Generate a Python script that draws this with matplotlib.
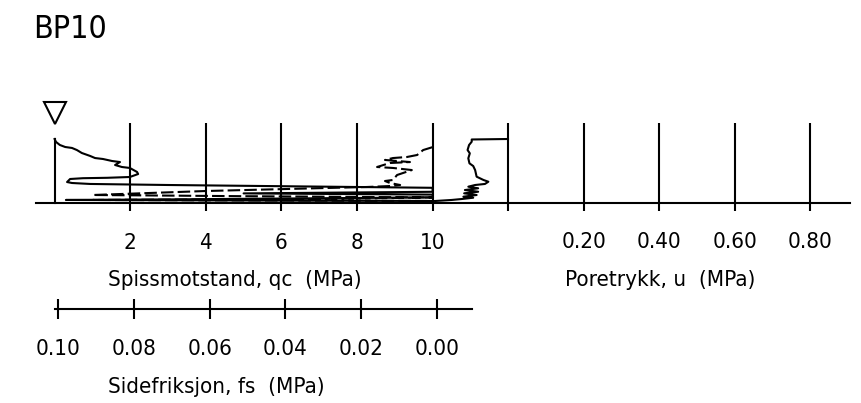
import matplotlib
matplotlib.use("Agg")
import matplotlib.pyplot as plt

plt.rcParams['font.family'] = ['DejaVu Sans']
plt.rcParams['font.stretch'] = 'condensed'

W, H, DPI = 862, 403, 100

title = "BP10"

# Cone resistance qc (MPa) versus depth (m)
qc_depth = [0.0, 0.12, 0.38, 0.75, 1.0, 1.12, 1.38, 1.75, 2.12, 2.38, 2.5, 2.75,
            2.88, 3.25, 3.5, 3.62, 4.12, 4.38, 4.75, 4.85, 4.9, 5.0, 5.38, 5.5,
            5.62, 5.75, 5.95, 6.1, 6.4, 6.6, 6.8, 6.95, 7.3, 7.55, 7.62, 7.75]
qc_values = [0.0, 0.01, 0.04, 0.14, 0.28, 0.46, 0.59, 0.72, 0.94, 1.07, 1.28, 1.52,
             1.73, 1.60, 1.78, 1.99, 2.18, 2.21, 1.99, 1.39, 0.75, 0.41, 0.33, 0.46,
             0.94, 3.0, 7.0, 10.0, 10.0, 10.0, 5.0, 10.0, 10.0, 3.0, 0.3, 10.0]

# Sleeve friction fs (MPa) versus depth (m)
fs_depth = [1.0, 1.38, 2.0, 2.25, 2.38, 2.62, 2.75, 2.88, 3.0, 3.5, 3.62, 3.88,
            4.5, 5.12, 5.25, 5.5, 5.75, 5.88, 6.0, 6.5, 7.0, 7.15, 7.3, 7.5,
            7.62, 7.75]
fs_values = [0.0, 0.0026, 0.0042, 0.0069, 0.0106, 0.0127, 0.0095, 0.0061, 0.0114,
             0.0148, 0.0106, 0.0056, 0.0095, 0.0106, 0.0127, 0.0114, 0.0087, 0.0114,
             0.0175, 0.060, 0.090, 0.050, 0.0, 0.030, 0.090, 0.0]

# Pore pressure u (MPa) versus depth (m)
u_depth = [0.0, 0.06, 0.34, 0.75, 1.38, 1.79, 2.41, 3.04, 3.38, 3.88, 4.71, 5.12,
           5.34, 5.62, 5.75, 5.96, 6.16, 6.38, 6.59, 6.79, 7.0, 7.21, 7.34, 7.5,
           7.62, 7.75]
u_values = [0.0, -0.096, -0.096, -0.103, -0.107, -0.101, -0.105, -0.102, -0.092,
            -0.087, -0.083, -0.065, -0.052, -0.061, -0.087, -0.105, -0.079, -0.114,
            -0.079, -0.116, -0.083, -0.118, -0.092, -0.122, -0.149, -0.193]

qc_ticks = [2, 4, 6, 8, 10]
qc_tick_labels = ["2", "4", "6", "8", "10"]
u_ticks = [0.0, 0.2, 0.4, 0.6, 0.8]
u_tick_labels = ["", "0.20", "0.40", "0.60", "0.80"]
fs_ticks = [0.10, 0.08, 0.06, 0.04, 0.02, 0.00]
fs_tick_labels = ["0.10", "0.08", "0.06", "0.04", "0.02", "0.00"]

groundwater_marker_depth = -3.25
max_depth = 8.0

LW = 1.5
TXT = 16


def fx(px):
    return px / W


def fy(py):
    return 1 - py / H


fig = plt.figure(figsize=(W / DPI, H / DPI), dpi=DPI)
fig.patch.set_facecolor("white")

# Main panel: qc scale along the bottom, depth downwards
ax = fig.add_axes([fx(36), fy(203), (850 - 36) / W, (203 - 123) / H])
ax.set_xlim((36 - 54.6) / 37.8, (850 - 54.6) / 37.8)
ax.set_ylim(max_depth, -2.0)
ax.patch.set_visible(False)
for side in ("top", "right"):
    ax.spines[side].set_visible(False)
ax.spines["bottom"].set_linewidth(LW)
ax.spines["left"].set_linewidth(LW)
ax.spines["left"].set_position(("data", 0))
ax.spines["left"].set_bounds(0, max_depth)
ax.set_yticks([])
ax.set_xticks(qc_ticks)
ax.set_xticklabels(qc_tick_labels)
ax.grid(axis="x", color="black", linewidth=LW)
ax.tick_params(axis="x", direction="out", length=5.8, width=LW, labelsize=TXT, pad=16)

# Pore pressure scale sharing the depth axis
u_ax = ax.twiny()
u_ax.set_xlim((36 - 508) / 378, (850 - 508) / 378)
u_ax.xaxis.tick_bottom()
u_ax.set_xticks(u_ticks)
u_ax.set_xticklabels(u_tick_labels)
u_ax.grid(axis="x", color="black", linewidth=LW)
u_ax.tick_params(axis="x", direction="out", length=5.8, width=LW, labelsize=TXT, pad=15)
for s in u_ax.spines.values():
    s.set_visible(False)

# Sleeve friction drawn on a reversed scale over the qc panel
fs_ax = ax.twiny()
fs_ax.set_xlim((433 - 36) / 3780, (433 - 850) / 3780)
fs_ax.set_xticks([])
for s in fs_ax.spines.values():
    s.set_visible(False)

ax.plot(qc_values, qc_depth, color="black", lw=LW, solid_joinstyle="round")
fs_ax.plot(fs_values, fs_depth, color="black", lw=LW, linestyle=(0, (6, 2)))
u_ax.plot(u_values, u_depth, color="black", lw=LW, solid_joinstyle="round")

# Groundwater level symbol
ax.plot([0], [groundwater_marker_depth], marker="v", markersize=15.5,
        markerfacecolor="white", markeredgecolor="black", markeredgewidth=1.5,
        clip_on=False)

# Separate scale for sleeve friction
fs_scale = fig.add_axes([fx(55), fy(309), (472 - 55) / W, 2 / H])
fs_scale.set_xlim((437 - 55) / 3790, (437 - 472) / 3790)
fs_scale.patch.set_visible(False)
for side in ("top", "left", "right"):
    fs_scale.spines[side].set_visible(False)
fs_scale.spines["bottom"].set_linewidth(LW)
fs_scale.set_yticks([])
fs_scale.set_xticks(fs_ticks)
fs_scale.set_xticklabels(fs_tick_labels)
fs_scale.tick_params(axis="x", direction="inout", length=15, width=LW, labelsize=TXT, pad=14)

fig.text(fx(33), fy(30), title, fontsize=23, ha="left", va="center")
fig.text(fx(235), fy(280), "Spissmotstand, qc  (MPa)", fontsize=TXT, ha="center", va="center")
fig.text(fx(660), fy(280), "Poretrykk, u  (MPa)", fontsize=TXT, ha="center", va="center")
fig.text(fx(216), fy(387), "Sidefriksjon, fs  (MPa)", fontsize=TXT, ha="center", va="center")

fig.savefig("out.png", dpi=DPI, facecolor="white")
